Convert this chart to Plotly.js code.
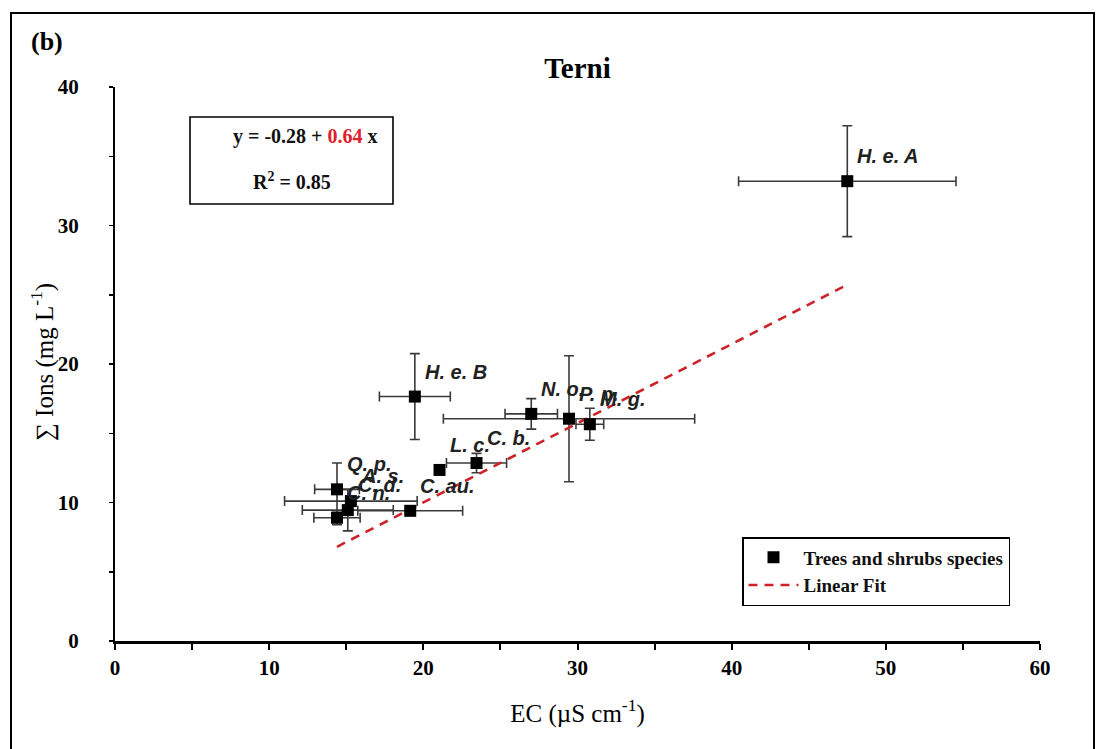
<!DOCTYPE html>
<html>
<head>
<meta charset="utf-8">
<script src="https://cdn.plot.ly/plotly-3.0.1.min.js"></script>
<style>html,body{margin:0;padding:0;background:#fff;}#chart{width:1096px;height:749px;}</style>
</head>
<body>
<div id="chart"></div>
<script>
// Species labels
const species = ["H. e. A","H. e. B","N. o.","P. p.","M. g.","C. b.","L. c.","C. au.","Q. p.","A. s.","C. d.","C. n."];
// EC (µS cm-1) and its error
const ec      = [47.5, 19.45, 27.0, 29.45, 30.8, 23.45, 21.05, 19.15, 14.4, 15.3, 15.1, 14.4];
const ecErr   = [7.05, 2.3, 1.7, 8.15, 0.9, 1.95, 0, 3.4, 1.45, 4.3, 2.95, 1.5];
// Sum of ions (mg L-1) and its error
const ions    = [33.2, 17.65, 16.4, 16.05, 15.65, 12.85, 12.35, 9.4, 10.95, 10.1, 9.45, 8.9];
const ionsErr = [4.0, 3.1, 1.1, 4.55, 1.15, 0.7, 0, 0, 1.9, 0.3, 1.5, 0.5];
// Linear fit line as drawn
const fitX = [14.4, 47.45];
const fitY = [6.8, 25.7];
// Axis ticks
const xTicks = [0, 10, 20, 30, 40, 50, 60];
const yTicks = [0, 10, 20, 30, 40];

const serif = "Liberation Serif, Times New Roman, serif";
const labelFont = {family: "Liberation Sans, Arial, sans-serif", size: 20, color: "#222", style: "italic", weight: "bold"};

const traces = [
  {
    x: ec, y: ions, type: "scatter", mode: "markers",
    marker: {size: 0.1, color: "rgba(0,0,0,0)"},
    error_x: {type: "data", array: ecErr, visible: true, color: "#3a3a3a", thickness: 1.6, width: 5},
    error_y: {type: "data", array: ionsErr, visible: true, color: "#3a3a3a", thickness: 1.6, width: 5},
    showlegend: false, hoverinfo: "skip"
  },
  {
    x: fitX, y: fitY, type: "scatter", mode: "lines", name: "Linear Fit",
    line: {color: "#cc2229", width: 2.6, dash: "9px,7px"}, legendrank: 2
  },
  {
    x: ec, y: ions, type: "scatter", mode: "markers", name: "Trees and shrubs species",
    marker: {symbol: "square", size: 12, color: "#000"}, legendrank: 1
  }
];

const annotations = species.map((s, i) => ({
  x: ec[i], y: ions[i], xref: "x", yref: "y", text: s, showarrow: false,
  xanchor: "left", yanchor: "middle", xshift: 8, yshift: 25, font: labelFont
}));

annotations.push(
  {xref: "paper", yref: "paper", x: (47 - 115) / 925, y: (641 - 42) / 554, xanchor: "center", yanchor: "middle",
   text: "<b>(b)</b>", showarrow: false, font: {family: serif, size: 26, color: "#000"}},
  {xref: "paper", yref: "paper", x: (305 - 115) / 925, y: (641 - 136) / 554, xanchor: "center", yanchor: "middle",
   text: "<b>y = -0.28 + <span style='color:#e0202a'>0.64</span> x</b>", showarrow: false,
   font: {family: serif, size: 20, color: "#111"}},
  {xref: "paper", yref: "paper", x: (292 - 115) / 925, y: (641 - 181) / 554, xanchor: "center", yanchor: "middle",
   text: "<b>R<sup>2</sup> = 0.85</b>", showarrow: false,
   font: {family: serif, size: 20, color: "#111"}},
  // y axis title placed explicitly
  {xref: "paper", yref: "paper", x: (42 - 115) / 925, y: (641 - 362) / 554, xanchor: "center", yanchor: "middle",
   textangle: -90, text: "∑ Ions (mg L<sup>-1</sup>)", showarrow: false,
   font: {family: serif, size: 25, color: "#000"}}
);

const shapes = [
  // outer frame
  {type: "rect", xref: "paper", yref: "paper", x0: (11 - 115) / 925, x1: (1094 - 115) / 925,
   y0: (641 - 770) / 554, y1: (641 - 13) / 554, line: {color: "#000", width: 2}},
  // equation box
  {type: "rect", xref: "paper", yref: "paper", x0: (190 - 115) / 925, x1: (393 - 115) / 925,
   y0: (641 - 204) / 554, y1: (641 - 117) / 554, line: {color: "#000", width: 1.6}}
];

const layout = {
  width: 1096, height: 749,
  margin: {l: 115, r: 56, t: 87, b: 108, autoexpand: false},
  paper_bgcolor: "#fff", plot_bgcolor: "#fff",
  font: {family: serif, color: "#000"},
  title: {text: "<b>Terni</b>", x: 0.5, xref: "paper", xanchor: "center",
          y: 1 - 68 / 749, yref: "container", yanchor: "middle",
          font: {family: serif, size: 29, color: "#000"}},
  xaxis: {
    range: [0, 60], tickvals: xTicks, ticktext: xTicks.map(String),
    showgrid: false, zeroline: false, showline: true, linecolor: "#000", linewidth: 2.5,
    ticks: "outside", ticklen: 6, tickwidth: 2, tickcolor: "#000",
    minor: {dtick: 5, ticks: "outside", ticklen: 6, tickwidth: 2, tickcolor: "#000"},
    tickfont: {family: serif, size: 21, weight: "bold"},
    title: {text: "EC (µS cm<sup>-1</sup>)", font: {family: serif, size: 25}, standoff: 26},
    fixedrange: true
  },
  yaxis: {
    range: [0, 40], tickvals: yTicks, ticktext: yTicks.map(String),
    showgrid: false, zeroline: false, showline: true, linecolor: "#000", linewidth: 2,
    ticks: "outside", ticklen: 4, tickwidth: 1.5, tickcolor: "#000",
    minor: {dtick: 5, ticks: "outside", ticklen: 4, tickwidth: 1.5, tickcolor: "#000"},
    tickfont: {family: serif, size: 21, weight: "bold"},
    ticklabelstandoff: 26,
    fixedrange: true
  },
  showlegend: true,
  legend: {
    x: (742 - 115) / 925, y: (641 - 537) / 554, xanchor: "left", yanchor: "top",
    bordercolor: "#000", borderwidth: 1.5, bgcolor: "#fff",
    font: {family: serif, size: 19, weight: "bold", color: "#111"},
    traceorder: "normal", tracegroupgap: 0, itemwidth: 50
  },
  annotations: annotations,
  shapes: shapes
};

Plotly.newPlot("chart", traces, layout, {displayModeBar: false, staticPlot: true});
</script>
</body>
</html>
